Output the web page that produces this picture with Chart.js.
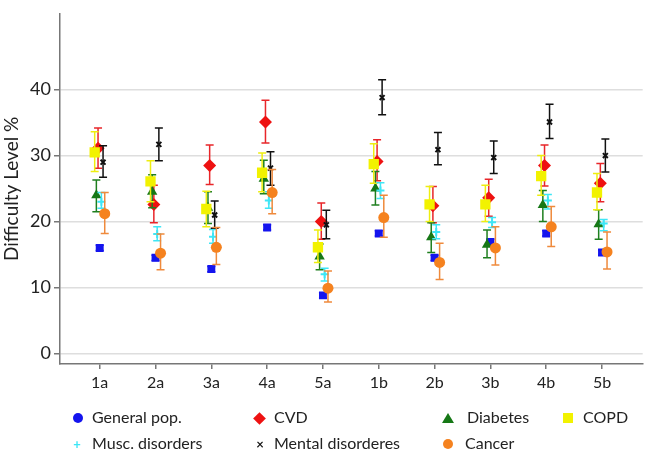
<!DOCTYPE html>
<html>
<head>
<meta charset="utf-8">
<script src="https://cdn.jsdelivr.net/npm/chart.js@4.4.0/dist/chart.umd.min.js"></script>
<style>
  html, body { margin: 0; padding: 0; background: #fff; }
  #wrap { position: relative; width: 650px; height: 453px; }
  canvas { position: absolute; left: 0; top: 0; }
  .leg { position: absolute; font-family: Lato, sans-serif; font-size: 16px; color: #222; white-space: nowrap; line-height: 18px; }
  .mk { position: absolute; }
</style>
</head>
<body>
<div id="wrap"><canvas id="grafico" width="650" height="453"></canvas></div>
<script>
// Dados
const categorias = ["1a", "2a", "3a", "4a", "5a", "1b", "2b", "3b", "4b", "5b"];
const ticksY = [0, 10, 20, 30, 40];

const geralMedia = [16.0, 14.5, 12.8, 19.1, 8.8, 18.2, 14.5, 16.9, 18.2, 15.3];
const geralMin   = [15.6, 14.1, 12.4, 18.7, 8.4, 17.8, 14.1, 16.5, 17.8, 14.9];
const geralMax   = [16.4, 14.9, 13.2, 19.5, 9.2, 18.6, 14.9, 17.3, 18.6, 15.7];

const cvdMedia = [31.1, 22.6, 28.5, 35.1, 20.0, 29.1, 22.4, 23.6, 28.5, 25.8];
const cvdMin   = [28.1, 19.8, 25.6, 31.9, 17.3, 26.2, 19.8, 20.8, 25.4, 23.0];
const cvdMax   = [34.2, 25.5, 31.6, 38.4, 22.8, 32.4, 25.3, 26.4, 31.6, 28.8];

const diabetesMedia = [24.0, 24.5, 22.1, 26.5, 14.7, 25.0, 17.6, 16.5, 22.5, 19.6];
const diabetesMin   = [21.5, 22.1, 19.7, 24.2, 12.7, 22.5, 15.3, 14.5, 20.0, 17.3];
const diabetesMax   = [26.3, 27.1, 24.5, 29.3, 16.6, 27.6, 19.8, 18.7, 24.7, 21.8];

const copdMedia = [30.5, 26.1, 21.9, 27.4, 16.1, 28.7, 22.6, 22.6, 26.9, 24.4];
const copdMin   = [27.6, 23.0, 19.2, 24.5, 13.8, 25.8, 20.0, 20.0, 24.0, 21.8];
const copdMax   = [33.6, 29.2, 24.6, 30.4, 18.7, 31.8, 25.3, 25.5, 30.0, 27.3];

const muscMedia = [23.0, 18.1, 17.7, 23.2, 12.0, 24.7, 18.4, 19.9, 23.2, 19.7];
const muscMin   = [22.0, 17.1, 16.7, 22.0, 11.0, 23.5, 17.4, 19.1, 21.9, 18.6];
const muscMax   = [24.4, 19.2, 18.8, 24.5, 12.9, 25.9, 19.5, 20.6, 24.1, 20.3];

const mentalMedia = [29.0, 31.7, 21.0, 28.1, 19.5, 38.8, 30.9, 29.7, 35.1, 30.0];
const mentalMin   = [26.7, 29.2, 19.0, 25.5, 17.4, 36.2, 28.6, 27.3, 32.6, 27.5];
const mentalMax   = [31.5, 34.2, 23.1, 30.6, 21.7, 41.5, 33.5, 32.2, 37.8, 32.5];

const cancerMedia = [21.2, 15.2, 16.1, 24.4, 9.9, 20.6, 13.8, 16.0, 19.2, 15.4];
const cancerMin   = [18.2, 12.7, 13.5, 21.2, 7.8, 17.6, 11.2, 13.4, 16.2, 12.8];
const cancerMax   = [24.4, 18.1, 19.1, 27.9, 12.5, 24.0, 16.7, 19.2, 22.3, 18.4];

// Séries (deslocamento lateral dentro de cada categoria)
const series = [
  { nome: "General pop.", media: geralMedia, min: geralMin, max: geralMax, desloc: 0, cor: "#1414ee", corBarra: "#1414ee", estilo: "rect", raio: 5.6 },
  { nome: "CVD", media: cvdMedia, min: cvdMin, max: cvdMax, desloc: -1, cor: "#ee1111", corBarra: "#e8262a", estilo: "rectRot", raio: 6.5 },
  { nome: "Diabetes", media: diabetesMedia, min: diabetesMin, max: diabetesMax, desloc: -2, cor: "#167816", corBarra: "#1f7f1f", estilo: "triangle", raio: 6 },
  { nome: "COPD", media: copdMedia, min: copdMin, max: copdMax, desloc: -3, cor: "#f2f200", corBarra: "#eeee10", estilo: "rect", raio: 7.3 },
  { nome: "Musc. disorders", media: muscMedia, min: muscMin, max: muscMax, desloc: 1, cor: "#3ee6f6", corBarra: "#3ee6f6", estilo: "cross", raio: 4 },
  { nome: "Mental disorderes", media: mentalMedia, min: mentalMin, max: mentalMax, desloc: 2, cor: "#111111", corBarra: "#111111", estilo: "crossRot", raio: 3.5 },
  { nome: "Cancer", media: cancerMedia, min: cancerMin, max: cancerMax, desloc: 3, cor: "#f5821f", corBarra: "#ef8a3c", estilo: "circle", raio: 5.5 }
];
const passo = 0.03;

// Barras de erro
const barrasErro = {
  id: "barrasErro",
  beforeDatasetDraw(chart, args) {
    const ds = chart.data.datasets[args.index];
    const ctx = chart.ctx;
    const y = chart.scales.y;
    ctx.save();
    ctx.strokeStyle = ds.corBarra;
    ctx.lineWidth = 1.5;
    args.meta.data.forEach((pt, i) => {
      const topo = y.getPixelForValue(ds.max[i]);
      const base = y.getPixelForValue(ds.min[i]);
      ctx.beginPath();
      ctx.moveTo(pt.x, topo); ctx.lineTo(pt.x, base);
      ctx.moveTo(pt.x - 4, topo); ctx.lineTo(pt.x + 4, topo);
      ctx.moveTo(pt.x - 4, base); ctx.lineTo(pt.x + 4, base);
      ctx.stroke();
    });
    ctx.restore();
  }
};

const datasets = series.map((s, k) => ({
  label: s.nome,
  data: s.media.map((v, i) => ({ x: i + 1 + s.desloc * passo, y: v })),
  min: s.min,
  max: s.max,
  corBarra: s.corBarra,
  pointStyle: s.estilo,
  pointRadius: s.raio,
  backgroundColor: s.cor,
  borderColor: s.cor,
  pointBorderWidth: (s.estilo === "cross" || s.estilo === "crossRot") ? 2 : 0,
  order: series.length - k
}));

new Chart(document.getElementById("grafico").getContext("2d"), {
  type: "scatter",
  data: { datasets },
  options: {
    responsive: false,
    animation: false,
    devicePixelRatio: 1,
    layout: { padding: { top: 3, right: 3, left: 0, bottom: 0 } },
    plugins: { legend: { display: false }, tooltip: { enabled: false } },
    scales: {
      x: {
        type: "linear",
        min: 0.2885,
        max: 10.729,
        afterBuildTicks: s => { s.ticks = categorias.map((c, i) => ({ value: i + 1 })); },
        afterFit: s => { s.height = 89; },
        ticks: {
          callback: v => categorias[Math.round(v) - 1],
          font: { family: "Lato", size: 16 },
          color: "#222",
          padding: 4,
          autoSkip: false,
          maxRotation: 0
        },
        grid: { drawOnChartArea: false, tickLength: 5, tickColor: "#777", lineWidth: 1.5 },
        border: { color: "#777", width: 1.5 }
      },
      y: {
        min: -1.6,
        max: 51.5,
        afterBuildTicks: s => { s.ticks = ticksY.map(v => ({ value: v })); },
        afterFit: s => { s.width = 60; },
        ticks: { font: { family: "Lato", size: 18 }, color: "#222", padding: 3 },
        grid: { color: "#dedede", lineWidth: 1.5, tickColor: "#777", tickLength: 6 },
        border: { color: "#777", width: 1.5 },
        title: { display: true, text: "Difficulty Level %", font: { family: "Lato", size: 19 }, color: "#222", padding: 0 }
      }
    }
  },
  plugins: [barrasErro]
});

// Legenda em HTML
const legenda = [
  { i: 0, xm: 78, xt: 92, y: 418, forma: "circulo" },
  { i: 1, xm: 259, xt: 274, y: 418, forma: "losango" },
  { i: 2, xm: 448, xt: 467, y: 418, forma: "triangulo" },
  { i: 3, xm: 568, xt: 583, y: 418, forma: "quadrado" },
  { i: 4, xm: 77, xt: 92, y: 444, forma: "mais" },
  { i: 5, xm: 260, xt: 274, y: 444, forma: "vezes" },
  { i: 6, xm: 448, xt: 465, y: 444, forma: "circulo" }
];
const wrap = document.getElementById("wrap");
legenda.forEach(item => {
  const s = series[item.i];
  const mk = document.createElement("div");
  mk.className = "mk";
  if (item.forma === "circulo") {
    mk.style.cssText = `left:${item.xm - 5}px;top:${item.y - 5}px;width:10px;height:10px;border-radius:50%;background:${s.cor}`;
  } else if (item.forma === "losango") {
    mk.style.cssText = `left:${item.xm - 4.5}px;top:${item.y - 4.5}px;width:9px;height:9px;transform:rotate(45deg);background:${s.cor}`;
  } else if (item.forma === "triangulo") {
    mk.style.cssText = `left:${item.xm - 6}px;top:${item.y - 5}px;width:0;height:0;border-left:6px solid transparent;border-right:6px solid transparent;border-bottom:10px solid ${s.cor}`;
  } else if (item.forma === "quadrado") {
    mk.style.cssText = `left:${item.xm - 5}px;top:${item.y - 5}px;width:10px;height:10px;background:${s.cor}`;
  } else {
    mk.style.cssText = `left:${item.xm - 5}px;top:${item.y - 8}px;width:10px;text-align:center;font:bold 13px Lato, sans-serif;line-height:16px;color:${s.cor}`;
    mk.textContent = item.forma === "mais" ? "+" : "×";
  }
  wrap.appendChild(mk);

  const txt = document.createElement("div");
  txt.className = "leg";
  txt.style.left = item.xt + "px";
  txt.style.top = (item.y - 10) + "px";
  txt.textContent = s.nome;
  wrap.appendChild(txt);
});
</script>
</body>
</html>
